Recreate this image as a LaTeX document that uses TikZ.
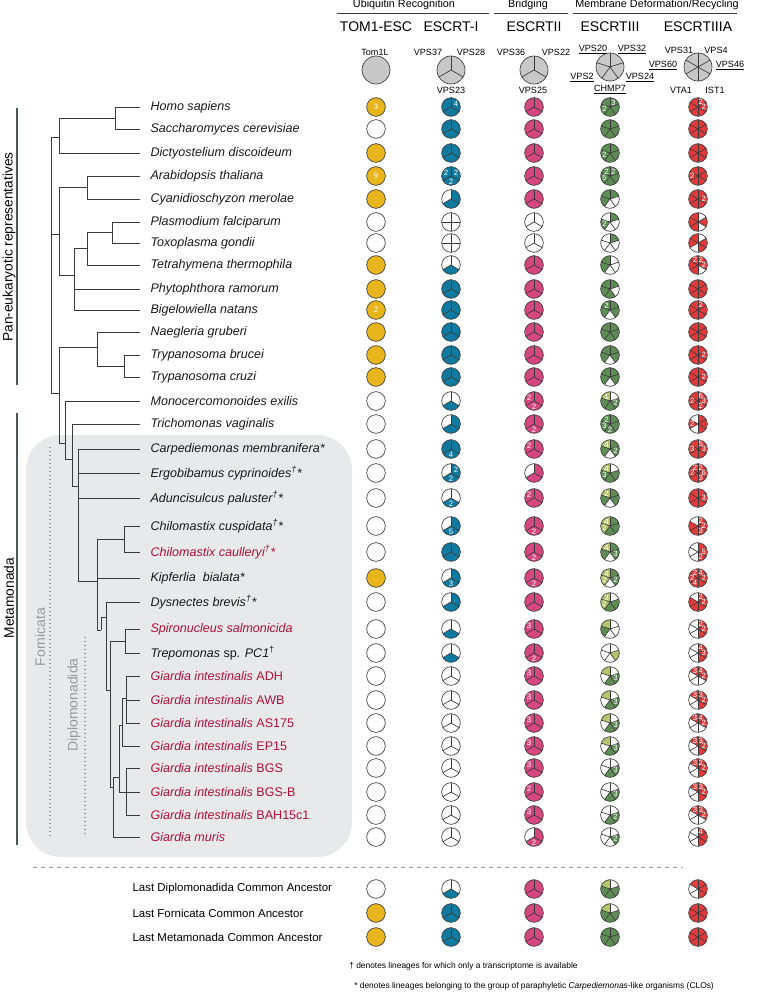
\documentclass[tikz,border=0pt]{standalone}
\usepackage{fontspec}
\setmainfont{Liberation Sans}

\definecolor{ctom}{HTML}{E9B51C}
\definecolor{cone}{HTML}{0E7AA0}
\definecolor{ctwo}{HTML}{D6467F}
\definecolor{cthree}{HTML}{5D8C55}
\definecolor{clight}{HTML}{B4C46F}
\definecolor{cfour}{HTML}{E23A3A}
\definecolor{hgray}{HTML}{C8C8C8}
\definecolor{sred}{HTML}{B0103A}
\definecolor{tline}{HTML}{3A3A3A}
\definecolor{barcol}{HTML}{4A5858}
\definecolor{boxcol}{HTML}{E8E9EA}
\definecolor{lblgray}{HTML}{9A9A9A}

\tikzset{
	branch/.style={draw=tline, line width=0.75pt},
	pieline/.style={draw=tline, line width=0.5pt},
	pienum/.style={text=white, font=\fontsize{5.8}{5.8}\selectfont, inner sep=0pt},
	sp/.style={anchor=west, inner sep=1pt, font=\fontsize{9.4}{10}\selectfont\itshape, text=black!90},
	spr/.style={sp, text=sred},
	anc/.style={anchor=west, inner sep=1pt, font=\fontsize{8.6}{10}\selectfont},
	coltitle/.style={font=\fontsize{10.5}{12}\selectfont},
	grouptitle/.style={font=\fontsize{8.1}{10}\selectfont},
	sublbl/.style={font=\fontsize{6.8}{8}\selectfont, inner sep=1pt},
	sidelbl/.style={rotate=90, font=\fontsize{10.3}{12}\selectfont},
	cladelbl/.style={rotate=90, font=\fontsize{10.5}{12}\selectfont, text=lblgray},
	note/.style={anchor=west, inner sep=0pt, font=\fontsize{6.3}{8}\selectfont}
}

\newcommand{\pierad}{7pt}
\newcommand{\piecol}{ctom}
% one pie: name, position, fills (0 empty, 1 colour, 2 light, 3 grey)
\newcommand{\piechart}[3]{%
	\coordinate (#1) at #2;
	\foreach \f [count=\k] in {#3} {\xdef\pien{\k}}
	\foreach \f [count=\k] in {#3} {
		\pgfmathsetmacro\sa{90+(\k-1)*360/\pien}
		\pgfmathsetmacro\ea{90+\k*360/\pien}
		\ifcase\f\edef\secfill{white}\or\edef\secfill{\piecol}\or\edef\secfill{clight}\or\edef\secfill{hgray}\fi
		\fill[fill=\secfill] (#1) -- ++(\sa:\pierad) arc[start angle=\sa, end angle=\ea, radius=\pierad] -- cycle;
	}
	\ifnum\pien>1
	\foreach \k in {1,...,\pien} {
		\pgfmathsetmacro\sa{90+(\k-1)*360/\pien}
		\draw[pieline] (#1) -- ++(\sa:\pierad);
	}
	\fi
	\draw[pieline] (#1) circle[radius=\pierad];
}
% a row of five pies
\newcommand{\pierow}[7]{%
	\renewcommand{\piecol}{ctom}\piechart{t#1}{(376,#2)}{#3}
	\renewcommand{\piecol}{cone}\piechart{a#1}{(451,#2)}{#4}
	\renewcommand{\piecol}{ctwo}\piechart{b#1}{(534,#2)}{#5}
	\renewcommand{\piecol}{cthree}\piechart{c#1}{(610,#2)}{#6}
	\renewcommand{\piecol}{cfour}\piechart{d#1}{(698,#2)}{#7}
}
\newcommand{\pnum}[3]{\path (#1) ++(#2:4.3pt) node[pienum] {#3};}
\newcommand{\pnumc}[2]{\node[pienum] at (#1) {#2};}

\begin{document}
\begin{tikzpicture}[x=0.75pt, y=-0.75pt]
	\useasboundingbox (0,0) rectangle (762,992);

	%%grey box of the Fornicata
	\fill[boxcol, rounded corners=26pt] (26,435) rectangle (352,857);
	\draw[lblgray, dotted, line width=1pt] (50,447) -- (50,837);
	\draw[lblgray, dotted, line width=1pt] (85,637) -- (85,837);
	\node[cladelbl] (forn) at (40,637) {Fornicata};
	\node[cladelbl] (dipl) at (74,705) {Diplomonadida};

	%%side bars
	\draw[barcol, line width=1.5pt] (17,108) -- (17,385);
	\node[sidelbl] (pan) at (9,247) {Pan-eukaryotic representatives};
	\draw[barcol, line width=1.5pt] (17,413) -- (17,845);
	\node[sidelbl] (meta) at (9,598) {Metamonada};

	%%header
	\node[grouptitle] (ubi) at (404,5) {Ubiquitin Recognition};
	\node[grouptitle] (bri) at (528,5) {Bridging};
	\node[grouptitle] (mem) at (657,5) {Membrane Deformation/Recycling};
	\draw[tline, line width=0.6pt] (337,13) -- (489,13);
	\draw[tline, line width=0.6pt] (494,13) -- (568,13);
	\draw[tline, line width=0.6pt] (573,13) -- (737,13);
	\node[coltitle] (tom) at (376,27) {TOM1-ESC};
	\node[coltitle] (esc1) at (451,27) {ESCRT-I};
	\node[coltitle] (esc2) at (534,27) {ESCRTII};
	\node[coltitle] (esc3) at (610,27) {ESCRTIII};
	\node[coltitle] (esc3a) at (698,27) {ESCRTIIIA};

	\renewcommand{\pierad}{10.5pt}
	\piechart{htom}{(376,70)}{3}
	\piechart{hone}{(451,70)}{3,3,3}
	\piechart{htwo}{(534,70)}{3,3,3}
	\piechart{hthree}{(610,67)}{3,3,3,3,3}
	\piechart{hfour}{(698,67)}{3,3,3,3,3,3}
	\renewcommand{\pierad}{7pt}

	\node[sublbl] at (375,52) {Tom1L};
	\node[sublbl] at (428,52) {VPS37};
	\node[sublbl] at (471,52) {VPS28};
	\node[sublbl] at (451,90) {VPS23};
	\node[sublbl] at (511,52) {VPS36};
	\node[sublbl] at (556,52) {VPS22};
	\node[sublbl] at (533,90) {VPS25};
	\node[sublbl] at (593,50) {\underline{VPS20}};
	\node[sublbl] at (632,50) {\underline{VPS32}};
	\node[sublbl] at (582,78) {\underline{VPS2}};
	\node[sublbl] at (640,78) {\underline{VPS24}};
	\node[sublbl] at (610,90) {\underline{CHMP7}};
	\node[sublbl] at (679,50) {VPS31};
	\node[sublbl] at (716,50) {VPS4};
	\node[sublbl] at (663,66) {\underline{VPS60}};
	\node[sublbl] at (730,66) {\underline{VPS46}};
	\node[sublbl] at (681,90) {VTA1};
	\node[sublbl] at (715,90) {IST1};

	%%species
	\node[sp] (hs) at (149,107) {Homo sapiens};
	\node[sp] (sc) at (149,129) {Saccharomyces cerevisiae};
	\node[sp] (dd) at (149,153) {Dictyostelium discoideum};
	\node[sp] (at) at (149,176) {Arabidopsis thaliana};
	\node[sp] (cm) at (149,199) {Cyanidioschyzon merolae};
	\node[sp] (pf) at (149,222) {Plasmodium falciparum};
	\node[sp] (tg) at (149,243) {Toxoplasma gondii};
	\node[sp] (tt) at (149,265) {Tetrahymena thermophila};
	\node[sp] (pr) at (149,289) {Phytophthora ramorum};
	\node[sp] (bn) at (149,310) {Bigelowiella natans};
	\node[sp] (ng) at (149,332) {Naegleria gruberi};
	\node[sp] (tb) at (149,355) {Trypanosoma brucei};
	\node[sp] (tc) at (149,377) {Trypanosoma cruzi};
	\node[sp] (me) at (149,401) {Monocercomonoides exilis};
	\node[sp] (tv) at (149,424) {Trichomonas vaginalis};
	\node[sp] (cp) at (149,449) {Carpediemonas membranifera*};
	\node[sp] (ec) at (149,473) {Ergobibamus cyprinoides\textsuperscript{†}*};
	\node[sp] (ap) at (149,498) {Aduncisulcus paluster\textsuperscript{†}*};
	\node[sp] (cc) at (149,526) {Chilomastix cuspidata\textsuperscript{†}*};
	\node[spr] (ca) at (149,552) {Chilomastix caulleryi\textsuperscript{†}*};
	\node[sp] (kb) at (149,578) {Kipferlia\ \ bialata*};
	\node[sp] (db) at (149,602) {Dysnectes brevis\textsuperscript{†}*};
	\node[spr] (ss) at (149,629) {Spironucleus salmonicida};
	\node[sp] (tp) at (149,653) {Trepomonas \textup{sp.} PC1\textsuperscript{\textup{†}}};
	\node[spr] (ga) at (149,676) {Giardia intestinalis \textup{ADH}};
	\node[spr] (gw) at (149,700) {Giardia intestinalis \textup{AWB}};
	\node[spr] (gs) at (149,723) {Giardia intestinalis \textup{AS175}};
	\node[spr] (ge) at (149,746) {Giardia intestinalis \textup{EP15}};
	\node[spr] (gb) at (149,768) {Giardia intestinalis \textup{BGS}};
	\node[spr] (gbb) at (149,792) {Giardia intestinalis \textup{BGS-B}};
	\node[spr] (gh) at (149,815) {Giardia intestinalis \textup{BAH15c1}};
	\node[spr] (gm) at (149,837) {Giardia muris};

	%%tree: tips
	\foreach \n/\y in {hs/107, sc/129, dd/153, at/176, cm/199, pf/222, tg/243, tt/265,
		pr/289, bn/310, ng/332, tb/355, tc/377, me/401, tv/424, cp/449, ec/473, ap/498,
		cc/526, ca/552, kb/578, db/602, ss/629, tp/653, ga/676, gw/700, gs/723, ge/746,
		gb/768, gbb/792, gh/815, gm/837}
		\coordinate (l\n) at (140,\y);
	%inner nodes%
	\coordinate (root) at (51,265);
	\coordinate (nHS) at (115,118);
	\coordinate (nA) at (59,137);
	\coordinate (nAC) at (87,187);
	\coordinate (nPT) at (112,232);
	\coordinate (nPTT) at (87,248);
	\coordinate (nAlv) at (74,275);
	\coordinate (nB) at (59,234);
	\coordinate (nTT) at (124,366);
	\coordinate (nNT) at (97,347);
	\coordinate (nC) at (59,393);
	\coordinate (nMeta) at (65,443);
	\coordinate (nM2) at (72,459);
	\coordinate (nM3) at (78,486);
	\coordinate (nM4) at (97,581);
	\coordinate (nChilo) at (124,539);
	\coordinate (nM5) at (101,630);
	\coordinate (nM6) at (106,617);
	\coordinate (nDip) at (110,690);
	\coordinate (nST) at (125,641);
	\coordinate (nGia) at (113,787);
	\coordinate (nG1) at (119,777);
	\coordinate (nG2) at (122,725);
	\coordinate (nGADH) at (126,698);
	\coordinate (nBGS) at (126,792);
	%branches%
	\foreach \p/\c in {root/nA, root/nB, root/nC, nA/nHS, nA/ldd, nHS/lhs, nHS/lsc,
		nB/nAC, nB/nAlv, nAC/lat, nAC/lcm, nAlv/nPTT, nAlv/lpr, nAlv/lbn, nPTT/nPT, nPTT/ltt,
		nPT/lpf, nPT/ltg, nC/nNT, nC/nMeta, nNT/lng, nNT/nTT, nTT/ltb, nTT/ltc,
		nMeta/lme, nMeta/nM2, nM2/ltv, nM2/nM3, nM3/lcp, nM3/lec, nM3/lap, nM3/nM4,
		nM4/nChilo, nM4/lkb, nM4/nM5, nChilo/lcc, nChilo/lca, nM5/nM6, nM6/ldb, nM6/nDip,
		nDip/nST, nDip/nGia, nST/lss, nST/ltp, nGia/nG1, nGia/lgm, nG1/nG2, nG1/nBGS,
		nG2/nGADH, nG2/lge, nGADH/lga, nGADH/lgw, nGADH/lgs, nBGS/lgb, nBGS/lgbb, nBGS/lgh}
		\draw[branch] (\p) |- (\c);

	%%pies
	\pierow{hs}{107}{1}{1,1,1}{1,1,1}{1,1,1,1,1}{1,1,1,1,1,1}
	\pnumc{ths}{3} \pnum{ahs}{30}{4} \pnum{chs}{54}{3} \pnum{chs}{198}{2} \pnum{dhs}{60}{2} \pnum{dhs}{0}{2}
	\pierow{sc}{129}{0}{1,1,1}{1,1,1}{1,1,1,1,1}{1,1,1,1,1,1}
	\pierow{dd}{153}{1}{1,1,1}{1,1,1}{1,1,1,1,1}{1,1,1,1,1,1}
	\pnum{cdd}{198}{2}
	\pierow{at}{176}{1}{1,1,1}{1,1,1}{1,1,1,1,1}{1,1,1,1,1,1}
	\pnumc{tat}{9} \pnum{aat}{150}{2} \pnum{aat}{30}{2} \pnum{aat}{270}{2}
	\pnum{cat}{126}{2} \pnum{cat}{54}{2} \pnum{cat}{198}{5} \pnum{dat}{180}{2}
	\pierow{cm}{199}{1}{0,1,1}{1,1,1}{1,1,0,0,1}{1,1,1,1,1,1}
	\pnum{dcm}{0}{2}
	\pierow{pf}{222}{0}{0,0,0,0}{0,0,0}{0,1,0,0,1}{1,1,1,0,1,0}
	\pnum{cpf}{198}{2}
	\pierow{tg}{243}{0}{0,0,0,0}{0,0,0}{0,0,0,0,1}{1,1,0,1,1,0}
	\pierow{tt}{265}{1}{0,1,0}{1,1,1}{1,1,0,0,0}{1,1,1,0,1,1}
	\pnum{dtt}{120}{2} \pnum{dtt}{60}{2} \pnum{dtt}{0}{2}
	\pierow{pr}{289}{1}{1,1,1}{1,1,1}{1,1,1,0,1}{1,1,1,1,1,1}
	\pierow{bn}{310}{1}{1,1,1}{1,1,1}{1,1,0,1,1}{1,1,1,1,1,1}
	\pnumc{tbn}{2} \pnum{cbn}{126}{2} \pnum{dbn}{60}{2}
	\pierow{ng}{332}{1}{1,1,1}{1,1,1}{1,1,1,1,1}{1,1,1,1,1,1}
	\pierow{tb}{355}{1}{1,1,1}{1,1,1}{1,1,0,1,1}{1,1,1,1,1,1}
	\pnum{dtb}{0}{2}
	\pierow{tc}{377}{1}{1,1,1}{1,1,1}{1,1,0,1,1}{1,1,1,1,1,1}
	\pnum{dtc}{0}{2}
	\pierow{me}{401}{0}{0,1,0}{1,1,1}{2,1,1,1,0}{1,1,1,1,1,1}
	\pnum{bme}{150}{2} \pnum{bme}{270}{2} \pnum{cme}{126}{1} \pnum{cme}{342}{2}
	\pnum{dme}{60}{6} \pnum{dme}{0}{3} \pnum{dme}{180}{2} \pnum{dme}{300}{2}
	\pierow{tv}{424}{0}{0,1,1}{1,1,1}{1,1,1,1,1}{0,1,0,1,1,1}
	\pnum{btv}{270}{2} \pnum{ctv}{126}{2} \pnum{ctv}{198}{3} \pnum{ctv}{270}{2} \pnum{dtv}{180}{2}
	\pierow{cp}{449}{0}{1,1,1}{1,1,1}{2,1,0,1,1}{1,1,1,1,1,1}
	\pnum{acp}{270}{4} \pnum{bcp}{150}{2} \pnum{ccp}{126}{4} \pnum{ccp}{342}{2}
	\pnum{dcp}{60}{5} \pnum{dcp}{0}{3} \pnum{dcp}{180}{3}
	\pierow{ec}{473}{0}{0,1,1}{0,1,1}{2,1,1,1,0}{1,1,1,1,1,1}
	\pnum{aec}{30}{2} \pnum{aec}{270}{2} \pnum{cec}{126}{4} \pnum{cec}{198}{3}
	\pnum{dec}{120}{2} \pnum{dec}{60}{2} \pnum{dec}{0}{6} \pnum{dec}{180}{2} \pnum{dec}{300}{3}
	\pierow{ap}{498}{0}{0,1,0}{1,1,1}{2,1,0,1,1}{1,1,1,1,1,1}
	\pnum{aap}{270}{2} \pnum{bap}{150}{2} \pnum{cap}{126}{2} \pnum{dap}{0}{3}
	\pierow{cc}{526}{0}{0,1,1}{1,1,1}{2,2,1,1,1}{0,1,1,1,1,1}
	\pnum{acc}{270}{5} \pnum{bcc}{270}{2} \pnum{ccc}{126}{4} \pnum{ccc}{198}{2}
	\pnum{dcc}{60}{2} \pnum{dcc}{0}{2} \pnum{dcc}{300}{3}
	\pierow{ca}{552}{0}{1,1,1}{1,1,1}{2,1,0,1,1}{0,0,0,1,1,1}
	\pnum{bca}{270}{2} \pnum{cca}{126}{4} \pnum{cca}{342}{3} \pnum{dca}{0}{5} \pnum{dca}{300}{2}
	\pierow{kb}{578}{1}{0,1,1}{1,1,1}{2,2,0,1,1}{1,1,1,1,1,1}
	\pnum{akb}{270}{3} \pnum{bkb}{270}{2} \pnum{ckb}{126}{4} \pnum{ckb}{198}{2} \pnum{ckb}{342}{2}
	\pnum{dkb}{120}{2} \pnum{dkb}{60}{4} \pnum{dkb}{180}{2} \pnum{dkb}{240}{4} \pnum{dkb}{0}{2}
	\pierow{db}{602}{0}{0,1,1}{1,1,1}{2,2,1,1,0}{0,1,1,1,1,1}
	\pnum{cdb}{126}{3} \pnum{cdb}{198}{2} \pnum{ddb}{60}{2} \pnum{ddb}{0}{2}
	\pierow{ss}{629}{0}{0,1,0}{1,1,1}{2,1,0,0,0}{0,0,0,1,1,1}
	\pnum{bss}{150}{3} \pnum{dss}{60}{2} \pnum{dss}{0}{2}
	\pierow{tp}{653}{0}{0,1,0}{1,1,1}{0,0,0,2,0}{0,0,0,1,1,1}
	\pnum{btp}{270}{2} \pnum{dtp}{60}{4} \pnum{dtp}{0}{3}
	\pierow{ga}{676}{0}{0,0,0}{1,1,1}{2,0,1,1,0}{1,0,0,0,1,1}
	\pnum{bga}{150}{3} \pnum{cga}{342}{3} \pnum{dga}{120}{3} \pnum{dga}{60}{4} \pnum{dga}{0}{2}
	\pierow{gw}{700}{0}{0,0,0}{1,1,1}{2,0,1,1,0}{1,0,0,1,1,1}
	\pnum{bgw}{150}{3} \pnum{cgw}{342}{3} \pnum{dgw}{120}{3} \pnum{dgw}{60}{3} \pnum{dgw}{0}{2}
	\pierow{gs}{723}{0}{0,0,0}{1,1,1}{2,0,1,1,0}{1,0,0,0,1,1}
	\pnum{bgs}{150}{3} \pnum{cgs}{342}{3} \pnum{dgs}{120}{3} \pnum{dgs}{60}{4} \pnum{dgs}{0}{2}
	\pierow{ge}{746}{0}{0,0,0}{1,1,1}{2,0,1,1,0}{1,0,0,1,1,1}
	\pnum{bge}{150}{3} \pnum{cge}{342}{3} \pnum{dge}{120}{3} \pnum{dge}{60}{3} \pnum{dge}{0}{2}
	\pierow{gb}{768}{0}{0,0,0}{1,1,1}{0,0,1,1,0}{1,0,0,1,1,1}
	\pnum{bgb}{150}{3} \pnum{cgb}{342}{3} \pnum{dgb}{120}{3} \pnum{dgb}{60}{2} \pnum{dgb}{0}{2}
	\pierow{gbb}{792}{0}{0,0,0}{1,1,1}{0,0,1,1,0}{1,0,0,1,1,1}
	\pnum{bgbb}{150}{2} \pnum{cgbb}{342}{3} \pnum{dgbb}{120}{3} \pnum{dgbb}{60}{3} \pnum{dgbb}{0}{2}
	\pierow{gh}{815}{0}{0,0,0}{1,1,1}{0,0,1,1,0}{1,0,0,0,1,1}
	\pnum{bgh}{150}{3} \pnum{cgh}{342}{2} \pnum{dgh}{120}{3} \pnum{dgh}{60}{3} \pnum{dgh}{0}{2}
	\pierow{gm}{837}{0}{0,0,0}{0,1,1}{0,0,0,1,0}{0,0,0,1,1,1}
	\pnum{bgm}{270}{2} \pnum{cgm}{342}{2} \pnum{dgm}{60}{4}

	%%ancestors
	\draw[lblgray, dashed, line width=0.75pt] (33,867) -- (683,867);
	\node[anc] (ldca) at (131,889) {Last Diplomonadida Common Ancestor};
	\node[anc] (lfca) at (131,913) {Last Fornicata Common Ancestor};
	\node[anc] (lmca) at (131,937) {Last Metamonada Common Ancestor};
	\pierow{ldca}{889}{0}{0,1,0}{1,1,1}{2,1,1,1,0}{1,0,0,1,1,1}
	\pierow{lfca}{913}{1}{1,1,1}{1,1,1}{2,1,1,1,0}{1,1,1,1,1,1}
	\pierow{lmca}{937}{1}{1,1,1}{1,1,1}{1,1,1,1,1}{1,1,1,1,1,1}

	%%notes
	\node[note] (dag) at (349,966) {† denotes lineages for which only a transcriptome is available};
	\node[note] (ast) at (354,986) {* denotes lineages belonging to the group of paraphyletic \textit{Carpediemonas}-like organisms (CLOs)};
\end{tikzpicture}
\end{document}
